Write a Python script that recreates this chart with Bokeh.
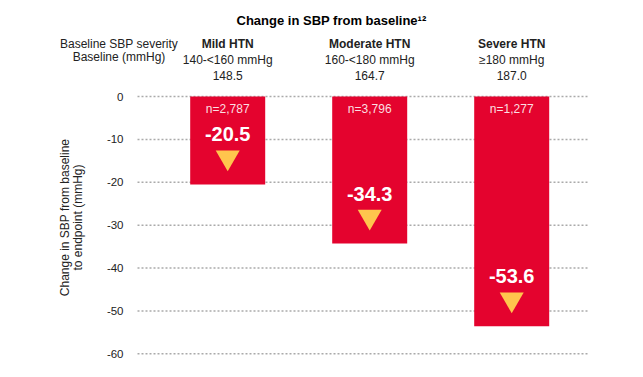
import numpy as np
from bokeh.plotting import figure
from bokeh.models import Range1d, ColumnDataSource, FixedTicker
from bokeh.core.properties import value
from bokeh.embed import file_html
from bokeh.resources import INLINE

# ---- data ----
categories = ["Mild HTN", "Moderate HTN", "Severe HTN"]
severity_ranges = ["140-<160 mmHg", "160-<180 mmHg", "\u2265180 mmHg"]
baseline_sbp = [148.5, 164.7, 187.0]
n_patients = [2787, 3796, 1277]
sbp_change = [-20.5, -34.3, -53.6]
y_ticks = [0, -10, -20, -30, -40, -50, -60]
title_text = "Change in SBP from baseline\u00b9\u00b2"
row_labels = ["Baseline SBP severity", "Baseline (mmHg)"]
y_label_lines = ["Change in SBP from baseline", "to endpoint (mmHg)"]

# ---- layout (pixels) ----
W, H = 643, 377
AXIS_W = 40                  # left panel width holding the y axis
PX_X = 142.0                 # pixels per category step
X0_PX = 227.2                # pixel of first category centre
PX_Y = 4.288                 # pixels per mmHg
Y0_PX = 96.0                 # pixel of the zero line
GRID_L, GRID_R = 137, 587    # extent of the dotted grid
FONT = "Liberation Sans"
RED = "#E4032E"
YELLOW = "#FFC54D"
TXT = "#222222"


def dx(px):
    return (px - X0_PX) / PX_X


def dy(py):
    return (Y0_PX - py) / PX_Y


p = figure(width=W, height=H, output_backend="svg", toolbar_location=None,
           x_axis_location=None,
           x_range=Range1d(dx(AXIS_W), dx(W)), y_range=Range1d(dy(H), dy(0)))
p.min_border = 0
p.min_border_left = AXIS_W
p.outline_line_color = None
p.background_fill_color = "white"
p.border_fill_color = "white"
p.xgrid.visible = False
p.ygrid.visible = False

ax = p.yaxis[0]
ax.fixed_location = dx(GRID_L)
ax.ticker = FixedTicker(ticks=y_ticks)
ax.major_label_overrides = {t: str(t) for t in y_ticks}
ax.axis_line_color = None
ax.major_tick_line_color = None
ax.minor_tick_line_color = None
ax.major_tick_out = 0
ax.major_tick_in = 0
ax.major_label_standoff = 14
ax.major_label_text_font = FONT
ax.major_label_text_font_size = "11.5px"
ax.major_label_text_color = TXT

n = len(categories)
idx = np.arange(n)

grid_src = ColumnDataSource(dict(
    x0=[dx(GRID_L)] * len(y_ticks), x1=[dx(GRID_R)] * len(y_ticks), y=y_ticks))
p.segment(x0="x0", y0="y", x1="x1", y1="y", source=grid_src,
          line_color="#aaaaaa", line_dash="2 2", line_width=1.5)

src = ColumnDataSource(dict(
    x=idx,
    zero=np.zeros(n),
    change=sbp_change,
    tri_y=np.array(sbp_change) + 27 / PX_Y,
    cat=categories,
    rng=severity_ranges,
    base=[f"{b:.1f}" for b in baseline_sbp],
    n=[f"n={v:,}" for v in n_patients],
    val=[f"{v:.1f}" for v in sbp_change],
))

p.vbar(x="x", top="zero", bottom="change", width=75 / PX_X, source=src,
       fill_color=RED, line_color=None)

txt_kw = dict(text_align="center", text_baseline="middle", text_font=value(FONT))

p.text(x="x", y="zero", text="n", source=src, y_offset=12,
       text_font_size="12px", text_color="white", text_alpha=0.88, **txt_kw)
p.text(x="x", y="change", text="val", source=src, y_offset=-50,
       text_font_size="20px", text_font_style="bold", text_color="white", **txt_kw)
p.scatter(x="x", y="tri_y", source=src, marker="inverted_triangle", size=24,
          fill_color=YELLOW, line_color=None)

# header rows above the bars
for col, off, style in [("cat", -53, "bold"), ("rng", -36.5, "normal"), ("base", -21, "normal")]:
    p.text(x="x", y="zero", text=col, source=src, y_offset=off,
           text_font_size="12px", text_font_style=style, text_color=TXT, **txt_kw)

p.text(x=[dx(118.5)] * 2, y=[dy(43), dy(56.5)], text=row_labels,
       text_font_size="12px", text_color=TXT, **txt_kw)

p.text(x=[dx(331)], y=[dy(20)], text=[title_text],
       text_font_size="13px", text_font_style="bold", text_color="black", **txt_kw)

p.text(x=[dx(64), dx(77.5)], y=[dy(217)] * 2, text=y_label_lines, angle=np.pi / 2,
       text_font_size="12px", text_color=TXT, **txt_kw)

open("out.html", "w").write(file_html(p, INLINE))
